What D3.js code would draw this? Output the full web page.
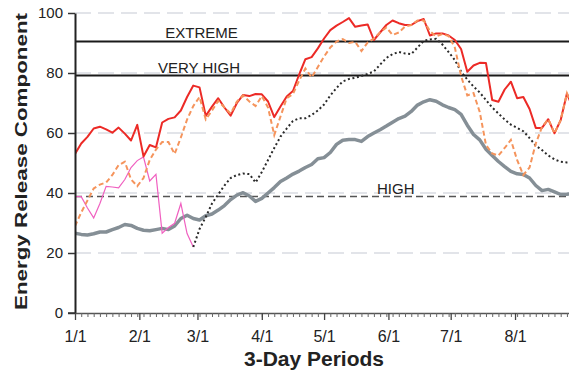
<!DOCTYPE html>
<html><head><meta charset="utf-8">
<script src="https://cdn.jsdelivr.net/npm/d3@7"></script>
<style>
html,body{margin:0;padding:0;background:#fff;}
svg{display:block;font-family:"Liberation Sans",Arial,Helvetica,sans-serif;}
</style></head>
<body>
<svg id="chart" width="569" height="370"></svg>
<script>
// ---- data ----
const monthLabels = ["1/1","2/1","3/1","4/1","5/1","6/1","7/1","8/1"];
const monthDays = [0,31,59,90,120,151,181,212];
const yTicks = [0,20,40,60,80,100];
const thresholds = [
  {label:"EXTREME", value:90.5},
  {label:"VERY HIGH", value:79.2}
];
const highValue = 38.8;

const redValues = [53,56.5,58.7,61.5,62.1,61.2,60.1,61.8,59.8,57.5,
 62.7,52.2,56,55.2,63.5,64.7,65.2,67.5,72,75.8,
 75.2,65.7,68.8,71.6,68.5,65.8,70,72.7,72.3,73,
 72.9,70.5,65.3,68.8,72.2,74,79.5,84.6,85.3,88.2,
 91.5,94.3,95.8,97,98.3,95.4,95.8,96.2,91,93.5,
 96,97.5,96.6,96,96,97.3,98,92.5,93.2,93.2,
 92.5,91,88,80.4,82.5,83.4,83.3,71,70.4,74.5,
 77.1,71.6,72,68,61.7,61.7,64.6,59.9,64.3,73.2,68];

const orangeValues = [29,33.5,37.5,41.5,42.8,43.5,46,49.3,50.4,44.5,
 42.3,45,51,54.5,57,57,53,58.5,64.5,69,
 72,64.5,67.5,70.7,68.5,66.5,70.5,72.5,70.5,69,
 72.3,68.5,59.3,65.5,71.6,73,77.5,81.5,78.5,82,
 85.5,88.5,90.5,91.3,90,90.4,87.3,90.2,91.5,93.5,
 95.2,92.7,93.5,95.5,96,97.5,97.5,94,92.2,93,
 92.3,88.5,79,72.5,73.3,67,56,53.2,52.5,55,
 57.7,51,46,48.5,56.5,62,64.6,59.9,64.3,73.2,68];

const dottedValues = [null,null,null,null,null,null,null,null,null,null,
 null,null,null,null,null,null,null,null,null,22,
 28,32,36.5,39.5,42.5,45,46,46.5,46.3,43.5,
 47,51,55,58.8,61.5,64,64.9,64.9,66,67.5,
 69.5,72.5,75,77.2,78,78.4,79,79.7,80.5,82.8,
 85,86.3,87,86.5,86.3,88.5,90.7,91.2,91.4,89.5,
 87,84.3,80.5,77.8,75.5,73.5,71,68.5,66.5,64.5,
 62.8,61.7,60.6,58.3,55.8,54.3,52.5,51.2,50.4,50.2,50.2];

const grayValues = [26.6,26.2,26,26.4,27,27,27.8,28.5,29.5,29.2,
 28.2,27.6,27.4,27.8,28.2,27.8,29,31.5,32.6,31.5,
 31,32.4,33,34.3,35.8,37.8,39.3,40.1,39,37.2,
 38.2,40,41.8,43.8,45,46.3,47.3,48.5,49.5,51.4,
 51.8,53.5,56.2,57.6,57.8,57.8,57.2,58.8,60,61.1,
 62.3,63.6,64.8,65.6,67.2,69.3,70.4,71.1,70.6,69.4,
 68.5,67.8,66.2,62.6,59.5,57.7,54.6,52.5,50.5,48.8,
 47.2,46.4,46.2,45,42.5,40.8,41.2,40.4,39.5,39.6,39.8];

const pinkValues = [38.8,38.8,35,31.7,36.5,42.2,42,41.7,44.5,48.5,
 50.8,52,44,46.2,26.6,28.5,29.9,36.5,26.5,22];

const periodDays = d3.range(redValues.length).map(i => i*3);

// ---- chart ----
const svg = d3.select("#chart");
const x = d3.scaleLinear().domain([0,238]).range([75,569]);
const y = d3.scaleLinear().domain([0,100]).range([313,13]);

svg.append("defs").append("clipPath").attr("id","plot")
  .append("rect").attr("x",75).attr("y",0).attr("width",494).attr("height",316);

// grid lines
svg.append("g").selectAll("line").data([20,40,60,80,100]).join("line")
  .attr("x1",x(0)).attr("x2",x(238))
  .attr("y1",d=>y(d)).attr("y2",d=>y(d))
  .attr("stroke","#c6cad4").attr("stroke-width",1.2)
  .attr("stroke-dasharray","16,7");

// threshold lines
svg.append("g").selectAll("line").data(thresholds).join("line")
  .attr("x1",x(0)).attr("x2",x(238))
  .attr("y1",d=>y(d.value)).attr("y2",d=>y(d.value))
  .attr("stroke","#1a1a1a").attr("stroke-width",2);
svg.append("line")
  .attr("x1",x(0)).attr("x2",x(238))
  .attr("y1",y(highValue)).attr("y2",y(highValue))
  .attr("stroke","#555").attr("stroke-width",1.5)
  .attr("stroke-dasharray","7,4");

// labels
const labelPos = [{t:"EXTREME",d:43.5,v:92},{t:"VERY HIGH",d:40,v:80.5},{t:"HIGH",d:145.5,v:40}];
svg.append("g").selectAll("text").data(labelPos).join("text")
  .attr("x",d=>x(d.d)).attr("y",d=>y(d.v)+1)
  .attr("font-size",15).attr("fill","#222").text(d=>d.t);

const plot = svg.append("g").attr("clip-path","url(#plot)");
function lineOf(vals){
  return d3.line().defined(d=>d!=null)
    .x((d,i)=>x(periodDays[i])).y(d=>y(d))(vals);
}
plot.append("path").attr("d",lineOf(grayValues))
  .attr("fill","none").attr("stroke","#858f96").attr("stroke-width",3.5)
  .attr("stroke-linejoin","round");
plot.append("path").attr("d",lineOf(pinkValues))
  .attr("fill","none").attr("stroke","#f060c0").attr("stroke-width",1.2);
plot.append("path").attr("d",lineOf(dottedValues))
  .attr("fill","none").attr("stroke","#2a2a2a").attr("stroke-width",2)
  .attr("stroke-dasharray","2,2.6");
plot.append("path").attr("d",lineOf(redValues))
  .attr("fill","none").attr("stroke","#ec2a26").attr("stroke-width",2)
  .attr("stroke-linejoin","round");
plot.append("path").attr("d",lineOf(orangeValues))
  .attr("fill","none").attr("stroke","#f5945c").attr("stroke-width",2)
  .attr("stroke-dasharray","5,3");

// y axis
const yAxis = svg.append("g").attr("transform","translate(75,0)")
  .call(d3.axisLeft(y).tickValues(yTicks).tickSize(7).tickSizeOuter(0).tickPadding(5));
yAxis.select(".domain").attr("stroke","#222").attr("stroke-width",2);
yAxis.selectAll(".tick line").attr("stroke","#333").attr("stroke-width",1.5);
yAxis.selectAll(".tick text").attr("font-size",15).attr("fill","#222")
  .attr("font-family","Liberation Sans, Arial, sans-serif");

// x axis minor ticks
const xMinor = svg.append("g").attr("transform","translate(0,313)")
  .call(d3.axisBottom(x).tickValues(periodDays.filter(d=>d<=238)).tickSize(4).tickFormat("").tickSizeOuter(0));
xMinor.select(".domain").attr("stroke","#555").attr("stroke-width",1.5);
xMinor.selectAll(".tick line").attr("stroke","#666").attr("stroke-width",1);
// x axis months
const xAxis = svg.append("g").attr("transform","translate(0,313)")
  .call(d3.axisBottom(x).tickValues(monthDays).tickSize(7).tickSizeOuter(0)
    .tickFormat((d,i)=>monthLabels[i]));
xAxis.select(".domain").remove();
xAxis.selectAll(".tick line").attr("stroke","#444").attr("stroke-width",1.3);
xAxis.selectAll(".tick text").attr("font-size",16).attr("fill","#222")
  .attr("y",29).attr("dy",0)
  .attr("font-family","Liberation Sans, Arial, sans-serif");
svg.append("line").attr("x1",68).attr("x2",75).attr("y1",313).attr("y2",313)
  .attr("stroke","#333").attr("stroke-width",1.5);

// axis titles
svg.append("text").attr("x",314).attr("y",366)
  .attr("text-anchor","middle").attr("font-size",21).attr("font-weight","bold")
  .attr("fill","#222").text("3-Day Periods");
svg.append("text").attr("transform","translate(27,161.5) rotate(-90)")
  .attr("text-anchor","middle").attr("font-size",17).attr("font-weight","bold")
  .attr("fill","#222").attr("textLength",297).attr("lengthAdjust","spacingAndGlyphs")
  .text("Energy Release Component");
</script>
</body></html>
